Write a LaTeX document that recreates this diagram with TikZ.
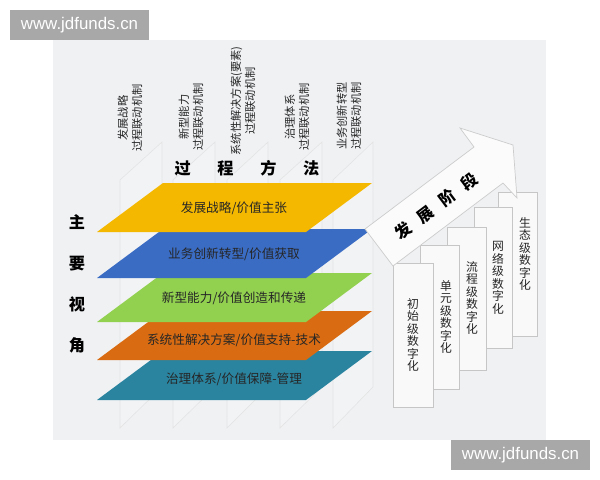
\documentclass[tikz,border=0pt]{standalone}
\usepackage{fontspec}
\usepackage{xcolor}
\setmainfont{Liberation Sans}
\newfontfamily\cjk{Noto Sans CJK SC}

\definecolor{panelgray}{HTML}{EFF1F3}
\definecolor{markgray}{HTML}{A8A8A8}
\definecolor{lyellow}{HTML}{F5B800}
\definecolor{lblue}{HTML}{3A6CC4}
\definecolor{lgreen}{HTML}{92D050}
\definecolor{lorange}{HTML}{D96C12}
\definecolor{lteal}{HTML}{2A84A0}

\begin{document}
\begin{tikzpicture}[x=0.025cm, y=-0.025cm,
    plane/.style={draw=gray!22, fill=white, fill opacity=0.2, line width=0.4pt},
    layertext/.style={font=\cjk\fontsize{9}{10}\selectfont, text=black!85},
    colhead/.style={rotate=90, align=center, font=\cjk\fontsize{8}{10}\selectfont, text=black!85},
    stagebox/.style={draw=gray!45, fill=white!95!gray, line width=0.4pt},
    stagetext/.style={align=center, font=\cjk\fontsize{8.4}{8.9}\selectfont, text=black!85},
    bigtitle/.style={font=\cjk\bfseries\fontsize{11.5}{14}\selectfont}]

    \useasboundingbox (0,0) rectangle (600,480);
    \fill[panelgray] (53,40) rectangle (546,440);

    % column planes
    \draw[plane] (120,428) -- (120,180) -- (162,142) -- (162,387) -- cycle;
    \draw[plane] (173,428) -- (173,180) -- (215,142) -- (215,387) -- cycle;
    \draw[plane] (227,428) -- (227,180) -- (268,142) -- (268,387) -- cycle;
    \draw[plane] (280,428) -- (280,180) -- (322,142) -- (322,387) -- cycle;
    \draw[plane] (333,428) -- (333,180) -- (373,142) -- (373,387) -- cycle;

    % layers, bottom first
    \fill[lteal] (97,400) -- (163,351) -- (372,351) -- (306,400) -- cycle;
    \fill[lorange] (97,360) -- (163,311) -- (372,311) -- (306,360) -- cycle;
    \fill[lgreen] (97,322) -- (163,273) -- (372,273) -- (306,322) -- cycle;
    \fill[lblue] (97,278) -- (163,229) -- (372,229) -- (306,278) -- cycle;
    \fill[lyellow] (97,232) -- (163,183) -- (372,183) -- (306,232) -- cycle;

    \node[layertext] (l1) at (234,208) {发展战略/价值主张};
    \node[layertext] (l2) at (234,254) {业务创新转型/价值获取};
    \node[layertext] (l3) at (234,298) {新型能力/价值创造和传递};
    \node[layertext] (l4) at (234,340) {系统性解决方案/价值支持-技术};
    \node[layertext] (l5) at (234,379) {治理体系/价值保障-管理};

    % column heads
    \node[colhead] (c1) at (130,118) {发展战略\\过程联动机制};
    \node[colhead] (c2) at (191,117) {新型能力\\过程联动机制};
    \node[colhead] (c3) at (243,101) {系统性解决方案(要素)\\过程联动机制};
    \node[colhead] (c4) at (297,117) {治理体系\\过程联动机制};
    \node[colhead] (c5) at (349,116) {业务创新转型\\过程联动机制};

    \node[bigtitle] (gc) at (247,168) {过\hspace{19pt}程\hspace{19pt}方\hspace{19pt}法};
    \node[bigtitle, align=center, font=\cjk\bfseries\fontsize{11.5}{29.2}\selectfont] (zy) at (77,284) {主\\要\\视\\角};

    % stage boxes, back first
    \draw[stagebox] (498,192) rectangle (537,336);
    \draw[stagebox] (474,207) rectangle (512,348);
    \draw[stagebox] (447,227) rectangle (486,370);
    \draw[stagebox] (420,245) rectangle (459,389);
    \draw[stagebox] (393,263) rectangle (433,407);

    \node[stagetext] (s1) at (413,335) {初\\始\\级\\数\\字\\化};
    \node[stagetext] (s2) at (446,317) {单\\元\\级\\数\\字\\化};
    \node[stagetext] (s3) at (472,298) {流\\程\\级\\数\\字\\化};
    \node[stagetext] (s4) at (498,278) {网\\络\\级\\数\\字\\化};
    \node[stagetext] (s5) at (525,254) {生\\态\\级\\数\\字\\化};

    % arrow
    \draw[draw=gray!40, fill=white!97!gray, line width=0.5pt]
        (393,266) -- (503,183) -- (517,198) -- (513,145) -- (460,128) -- (474,147) -- (365,229) -- cycle;
    \node[bigtitle, rotate=37] (fz) at (436,206) {发\hspace{8pt}展\hspace{8pt}阶\hspace{8pt}段};

    % watermarks
    \fill[markgray] (10,10) rectangle (149,40);
    \node[text=white, font=\fontsize{12}{14}\selectfont] (wa) at (79.5,25) {www.jdfunds.cn};
    \fill[markgray] (451,440) rectangle (590,470);
    \node[text=white, font=\fontsize{12}{14}\selectfont] (wb) at (520.5,455) {www.jdfunds.cn};

  \end{tikzpicture}
\end{document}
